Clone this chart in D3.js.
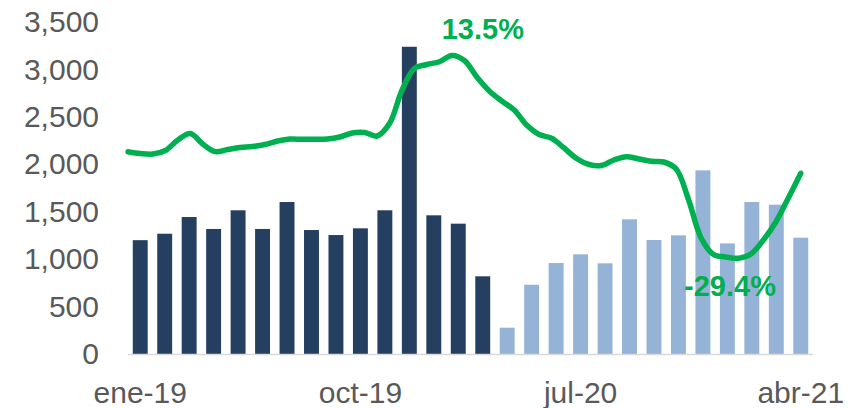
<!DOCTYPE html>
<html>
<head>
<meta charset="utf-8">
<script src="https://cdn.jsdelivr.net/npm/d3@7/dist/d3.min.js"></script>
<style>
  body { margin: 0; background: #fff; }
  svg { display: block; font-family: Arial, "Liberation Sans", sans-serif; }
</style>
</head>
<body>
<div id="chart"></div>
<script>
// Monthly bars (ene-19 .. abr-21) with a smoothed green trend line

const months = [
  'ene-19', 'feb-19', 'mar-19', 'abr-19', 'may-19', 'jun-19', 'jul-19', 'ago-19', 'sep-19', 'oct-19', 'nov-19', 'dic-19',
  'ene-20', 'feb-20', 'mar-20', 'abr-20', 'may-20', 'jun-20', 'jul-20', 'ago-20', 'sep-20', 'oct-20', 'nov-20', 'dic-20',
  'ene-21', 'feb-21', 'mar-21', 'abr-21'
];

// before the break (ene-19 .. mar-20)
const valuesBefore = [1200, 1268, 1444, 1318, 1515, 1318, 1602, 1307, 1254, 1325, 1515, 3239, 1462, 1374, 819];
// after the break (abr-20 .. abr-21)
const valuesAfter = [277, 730, 959, 1051, 956, 1420, 1202, 1251, 1936, 1166, 1602, 1574, 1226];

// trend line, read every half month from ene-19 to abr-21
const trendValues = [
  2133, 2114, 2108, 2145, 2256, 2325, 2214, 2133, 2156, 2177, 2187, 2209, 2245, 2266,
  2263, 2263, 2266, 2288, 2330, 2335, 2298, 2432, 2783, 3010, 3052, 3081, 3147, 3094,
  2920, 2773, 2667, 2572, 2414, 2314, 2274, 2172, 2061, 1998, 1987, 2045, 2080, 2056,
  2032, 2024, 1950, 1623, 1223, 1049, 1023, 1009, 1054, 1202, 1392, 1645, 1905
];

const yTicks = [0, 500, 1000, 1500, 2000, 2500, 3000, 3500];
const xTickLabels = ['ene-19', 'oct-19', 'jul-20', 'abr-21'];

// labels on the line, placed at a point of trendValues
const trendLabels = [
  { text: '13.5%', at: 28, above: true },
  { text: '-29.4%', at: 48, above: false }
];

const bars = months.map((m, i) => ({
  month: m,
  value: i < valuesBefore.length ? valuesBefore[i] : valuesAfter[i - valuesBefore.length],
  after: i >= valuesBefore.length
}));

const width = 861, height = 408;
const svg = d3.select('#chart')
  .append('svg')
  .attr('width', width)
  .attr('height', height);

const x = d3.scaleBand()
  .domain(months)
  .range([128, 813])
  .paddingInner(0.39)
  .paddingOuter(0.195);

const y = d3.scaleLinear()
  .domain([0, 3500])
  .range([354, 22]);

// y axis labels
const yAxis = svg.append('g')
  .attr('transform', 'translate(128,0)')
  .call(d3.axisLeft(y).tickValues(yTicks).tickSize(0).tickPadding(29).tickFormat(d3.format(',')));
yAxis.select('.domain').remove();
yAxis.selectAll('text')
  .attr('font-size', 30)
  .attr('font-family', 'Arial, "Liberation Sans", sans-serif')
  .attr('fill', '#595959');

// bars
svg.selectAll('rect.bar')
  .data(bars)
  .enter()
  .append('rect')
  .attr('class', 'bar')
  .attr('x', d => x(d.month))
  .attr('y', d => y(d.value))
  .attr('width', x.bandwidth())
  .attr('height', d => y(0) - y(d.value))
  .attr('fill', d => d.after ? '#95B3D7' : '#243F60');

// x axis
const xAxis = svg.append('g')
  .attr('transform', `translate(0,${y(0)})`)
  .call(d3.axisBottom(x).tickValues(xTickLabels).tickSize(0).tickPadding(28));
xAxis.select('.domain').remove();
xAxis.selectAll('text')
  .attr('font-size', 30)
  .attr('font-family', 'Arial, "Liberation Sans", sans-serif')
  .attr('fill', '#595959');

svg.append('line')
  .attr('x1', x.range()[0])
  .attr('x2', x.range()[1])
  .attr('y1', y(0) + 0.5)
  .attr('y2', y(0) + 0.5)
  .attr('stroke', '#D9D9D9')
  .attr('stroke-width', 1.5);

// trend line
const xt = d3.scaleLinear()
  .domain([0, trendValues.length - 1])
  .range([x.range()[0], x(months[months.length - 1]) + x.bandwidth() / 2]);

const line = d3.line()
  .x((d, i) => xt(i))
  .y(d => y(d))
  .curve(d3.curveCatmullRom.alpha(0.5));

svg.append('path')
  .datum(trendValues)
  .attr('d', line)
  .attr('fill', 'none')
  .attr('stroke', '#00B050')
  .attr('stroke-width', 5.5)
  .attr('stroke-linecap', 'round')
  .attr('stroke-linejoin', 'round');

svg.selectAll('text.trend')
  .data(trendLabels)
  .enter()
  .append('text')
  .attr('class', 'trend')
  .attr('x', d => xt(d.at) + (d.above ? 6 : 4))
  .attr('y', d => d.above ? y(trendValues[d.at]) - 38 : y(trendValues[d.at]) + 39)
  .attr('text-anchor', 'middle')
  .attr('font-size', 29)
  .attr('font-weight', 'bold')
  .attr('fill', '#00B050')
  .text(d => d.text);
</script>
</body>
</html>
